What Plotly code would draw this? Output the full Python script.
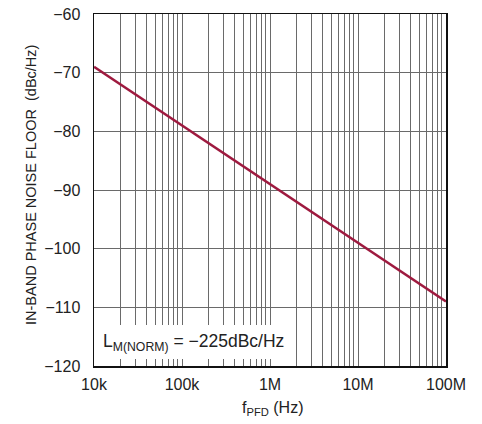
import plotly.graph_objects as go

# Data
freq_hz = [1e4, 1e8]
noise_dbc = [-69, -109]
x_tick_vals = [1e4, 1e5, 1e6, 1e7, 1e8]
x_tick_text = ["10k", "100k", "1M", "10M", "100M"]
y_tick_vals = [-120, -110, -100, -90, -80, -70, -60]
y_tick_text = ["\u2212120", "\u2212110", "\u2212100", "\u221290", "\u221280", "\u221270", "\u221260"]
label_text = "L<sub>M(NORM)</sub> = \u2212225dBc/Hz"
x_title = "f<sub>PFD</sub> (Hz)"
y_title = "IN-BAND PHASE NOISE FLOOR  (dBc/Hz)"

FONT = "Liberation Sans, Arial, sans-serif"
GRID = "#6a6a6a"
TXT = "#222"
minor_vals = [m * 10 ** d for d in range(4, 8) for m in range(2, 10)]

W, H = 482, 424
L, R, T, B = 94, 36, 14, 58
PW = W - L - R
PH = H - T - B


def px_x(x):
    return (x - L) / PW


def px_y(y):
    return (H - B - y) / PH


fig = go.Figure()
fig.add_trace(go.Scatter(x=freq_hz, y=noise_dbc, mode="lines",
                         line=dict(color="#9e1a3f", width=2.6),
                         showlegend=False, hoverinfo="skip"))

fig.update_layout(
    width=W, height=H,
    margin=dict(l=L, r=R, t=T, b=B, autoexpand=False),
    paper_bgcolor="white", plot_bgcolor="white",
    font=dict(family=FONT, size=16, color=TXT),
)
fig.update_xaxes(type="log", range=[4, 8], automargin=False,
                 tickvals=x_tick_vals, ticktext=x_tick_text,
                 showgrid=True, gridcolor=GRID, gridwidth=1,
                 minor=dict(tickvals=minor_vals, showgrid=True, gridcolor=GRID, gridwidth=1, ticks=""),
                 showline=True, linecolor="#111", linewidth=1.5, mirror=True,
                 ticks="outside", ticklen=3, tickcolor="rgba(0,0,0,0)", zeroline=False,
                 ticklabeloverflow="allow",
                 tickfont=dict(size=16, family=FONT, color=TXT))
fig.update_yaxes(range=[-120, -60], automargin=False,
                 tickvals=y_tick_vals, ticktext=y_tick_text,
                 showgrid=True, gridcolor=GRID, gridwidth=1,
                 showline=True, linecolor="#111", linewidth=1.5, mirror=True,
                 ticks="outside", ticklen=9, tickcolor="rgba(0,0,0,0)", zeroline=False,
                 ticklabeloverflow="allow",
                 tickfont=dict(size=16, family=FONT, color=TXT))

fig.add_shape(type="rect", xref="paper", yref="paper",
              x0=px_x(95.5), x1=px_x(292), y0=px_y(359), y1=px_y(325),
              fillcolor="white", line=dict(width=0), layer="above")
fig.add_annotation(text=label_text, xref="paper", yref="paper",
                   x=px_x(101), y=px_y(342), xanchor="left", yanchor="middle",
                   showarrow=False, font=dict(size=17.5, family=FONT, color=TXT))
fig.add_annotation(text=x_title, xref="paper", yref="paper",
                   x=px_x(272), y=px_y(408), xanchor="center", yanchor="middle",
                   showarrow=False, font=dict(size=16, family=FONT, color=TXT))
fig.add_annotation(text=y_title, xref="paper", yref="paper", textangle=-90,
                   x=px_x(31), y=px_y(185), xanchor="center", yanchor="middle",
                   showarrow=False, font=dict(size=14.5, family=FONT, color=TXT))

fig.write_html("out.html",
               config={"displayModeBar": False, "staticPlot": True},
               post_script="document.body.style.margin='0';document.body.style.overflow='hidden';")
